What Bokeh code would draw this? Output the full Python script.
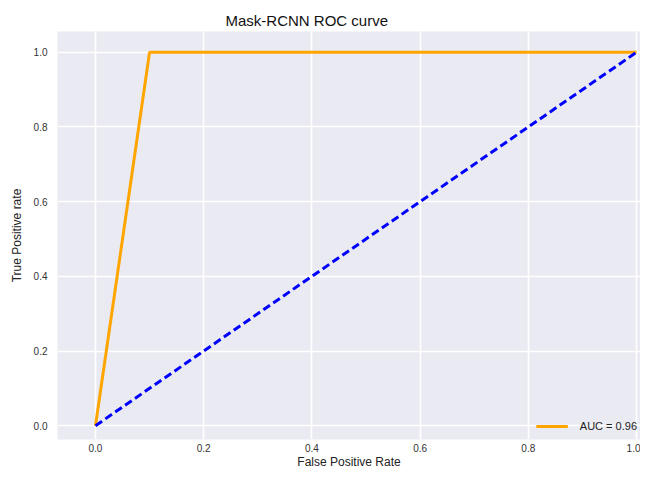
from bokeh.plotting import figure
from bokeh.embed import file_html
from bokeh.resources import INLINE
from bokeh.models import Range1d, FixedTicker, Legend, LegendItem, NumeralTickFormatter

fpr = [0.0, 0.1, 1.0]
tpr = [0.0, 1.0, 1.0]
diag_x = [0.0, 1.0]
diag_y = [0.0, 1.0]
ticks = [0.0, 0.2, 0.4, 0.6, 0.8, 1.0]
auc_label = "AUC = 0.96"

FONT = "Liberation Sans"

p = figure(width=640, height=471, output_backend="svg", toolbar_location=None,
           x_range=Range1d(-0.0702, 1.0074), y_range=Range1d(-0.037, 1.0557),
           title="Mask-RCNN ROC curve")
p.min_border_left = 57
p.min_border_right = 0
p.min_border_top = 31
p.min_border_bottom = 10

p.title.text_font = FONT
p.title.text_font_size = "15px"
p.title.text_font_style = "normal"
p.title.align = "left"
p.title.text_color = "#111111"
p.title.offset = 168
p.title.standoff = 5

p.background_fill_color = "#EAEAF2"
p.border_fill_color = "white"
p.outline_line_color = None

for g in (p.xgrid, p.ygrid):
    g.grid_line_color = "white"
    g.grid_line_width = 1.6

p.xaxis.ticker = FixedTicker(ticks=ticks)
p.yaxis.ticker = FixedTicker(ticks=ticks)
for ax in (p.xaxis, p.yaxis):
    ax.formatter = NumeralTickFormatter(format="0.0")
    ax.axis_line_color = None
    ax.major_tick_line_color = None
    ax.minor_tick_line_color = None
    ax.major_tick_out = 0
    ax.major_tick_in = 0
    ax.minor_tick_out = 0
    ax.minor_tick_in = 0
    ax.major_label_text_font = FONT
    ax.major_label_text_font_size = "10px"
    ax.major_label_text_color = "#333333"
    ax.axis_label_text_font = FONT
    ax.axis_label_text_font_size = "12px"
    ax.axis_label_text_font_style = "normal"
    ax.axis_label_text_color = "#222222"
p.xaxis.major_label_standoff = 4
p.xaxis.axis_label_standoff = 0
p.yaxis.major_label_standoff = 10
p.yaxis.axis_label_standoff = 7
p.xaxis.axis_label = "False Positive Rate"
p.yaxis.axis_label = "True Positive rate"

roc = p.line(fpr, tpr, line_color="#FFA500", line_width=3)
p.line(diag_x, diag_y, line_color="blue", line_width=3, line_dash="8 4")

legend = Legend(items=[LegendItem(label=auc_label, renderers=[roc])],
                location="bottom_right", border_line_color=None,
                background_fill_alpha=0.0, label_text_font=FONT,
                label_text_font_size="11px", label_text_color="#222222",
                glyph_width=32, margin=3, padding=2, label_standoff=12)
p.add_layout(legend)

open("out.html", "w").write(file_html(p, INLINE))
